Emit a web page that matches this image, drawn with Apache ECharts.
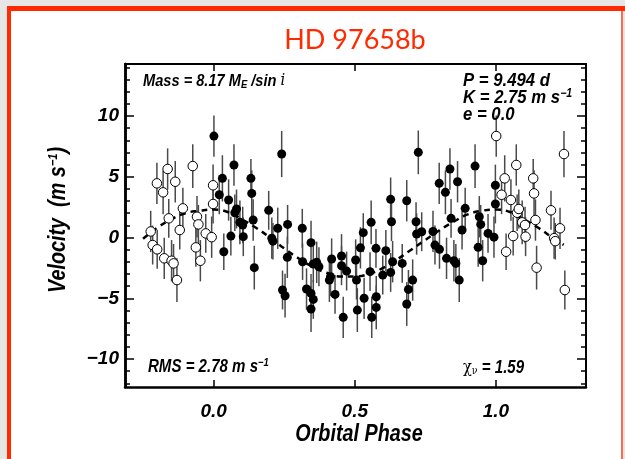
<!DOCTYPE html>
<html>
<head>
<meta charset="utf-8">
<script src="https://cdn.jsdelivr.net/npm/echarts@6/dist/echarts.min.js"></script>
<style>
  html, body { margin: 0; padding: 0; background: #e6e6e6; }
  #chart { width: 625px; height: 459px; }
</style>
</head>
<body>
<div id="chart"></div>
<script>
// Phase-folded radial velocities of HD 97658 (one orbital cycle, 0..1)
const phase = [
  0.001, 0.020, 0.031, 0.036, 0.053, 0.061, 0.072, 0.075, 0.081, 0.093,
  0.103, 0.105, 0.132, 0.135, 0.140, 0.144, 0.195, 0.206, 0.210, 0.227,
  0.241, 0.244, 0.253, 0.261, 0.262, 0.314, 0.315, 0.329, 0.345, 0.345,
  0.345, 0.353, 0.353, 0.365, 0.373, 0.410, 0.414, 0.418, 0.430, 0.453,
  0.453, 0.459, 0.471, 0.503, 0.506, 0.509, 0.520, 0.530, 0.533, 0.554,
  0.558, 0.560, 0.575, 0.576, 0.576, 0.599, 0.610, 0.627, 0.627, 0.630,
  0.634, 0.668, 0.684, 0.684, 0.690, 0.705, 0.717, 0.719, 0.725, 0.737,
  0.777, 0.784, 0.799, 0.800, 0.821, 0.825, 0.837, 0.841, 0.851, 0.858,
  0.864, 0.870, 0.880, 0.891, 0.926, 0.937, 0.941, 0.946, 0.953, 0.972,
  0.993, 0.998, 0.998
];
const velocity = [
  8.35, 3.52, 4.87, -1.17, 3.09, 0.12, 5.97, 2.04, 2.35, 1.25,
  1.03, 0.07, 4.87, 3.63, 1.44, -2.48, 2.24, -0.05, -0.30, 0.76,
  6.87, -4.32, -4.79, -1.63, 1.08, 0.76, -1.99, -4.24, -0.42, -4.60,
  -5.88, -2.18, -5.09, -2.04, -2.40, -3.50, -3.22, -1.77, -4.68, -1.52,
  -2.32, -6.57, -2.76, -1.85, -3.50, -5.97, -0.85, 0.40, -5.00, -2.81,
  1.25, -6.57, -0.89, -4.87, -5.75, -3.09, -1.08, -2.87, 3.14, 1.30,
  -1.99, -2.13, 3.03, -5.47, -4.27, -3.50, 1.30, 0.29, 7.01, 0.48,
  0.50, -0.62, 4.46, -0.97, 3.72, -1.71, 5.64, 1.58, -1.91, -2.13,
  4.59, -3.50, 0.62, 2.40, 5.88, -0.81, 1.71, 1.08, -1.91, 0.34,
  0.03, 4.30, 2.76
];
const velocityErr = [
  1.7, 1.6, 1.9, 1.5, 1.7, 1.6, 1.7, 1.5, 1.6, 1.8,
  1.5, 1.6, 1.6, 1.9, 1.7, 1.8, 1.6, 1.7, 1.5, 1.7,
  1.9, 1.6, 1.8, 1.7, 1.6, 1.6, 1.5, 1.7, 1.8, 1.6,
  1.9, 1.5, 1.6, 1.7, 1.6, 1.8, 1.6, 1.7, 1.6, 1.8,
  1.6, 1.7, 1.6, 1.7, 1.6, 1.8, 1.7, 1.6, 1.7, 1.6,
  1.8, 1.7, 1.6, 1.7, 1.8, 1.6, 1.7, 1.6, 1.8, 1.6,
  1.7, 1.6, 1.7, 1.8, 1.6, 1.7, 1.6, 1.7, 1.8, 1.6,
  1.7, 1.6, 1.7, 1.6, 1.8, 1.7, 1.7, 1.6, 1.7, 1.6,
  1.7, 1.8, 1.6, 1.7, 1.8, 1.6, 1.7, 1.6, 1.7, 1.6,
  1.7, 1.7, 1.6
];

// Circular-orbit model curve (K = 2.75 m/s), sampled along phase
const modelPhase = [
  -0.25, -0.20, -0.15, -0.10, -0.05, 0.00, 0.05, 0.10, 0.15, 0.20,
  0.25, 0.30, 0.35, 0.40, 0.45, 0.50, 0.55, 0.60, 0.65, 0.70,
  0.75, 0.80, 0.85, 0.90, 0.95, 1.00, 1.05, 1.10, 1.15, 1.20, 1.24
];
const modelVel = [
  -0.1, 0.8, 1.5, 2.0, 2.2, 2.3, 2.1, 1.5, 0.8, 0.0,
  -0.9, -1.7, -2.4, -2.9, -3.2, -3.2, -3.0, -2.5, -1.8, -1.0,
  -0.2, 0.6, 1.3, 1.9, 2.2, 2.3, 2.1, 1.5, 0.8, 0.0, -0.6
];

const xMajor = [0, 0.5, 1.0];
const yMajor = [-10, -5, 0, 5, 10];
const yMinor = [-12, -11, -9, -8, -7, -6, -4, -3, -2, -1, 1, 2, 3, 4, 6, 7, 8, 9, 11, 12, 13, 14];

const FONT = '"Liberation Sans", Arial, Helvetica, sans-serif';
const X_MIN = -0.314, X_MAX = 1.319;
const Y_MIN = -12.3, Y_MAX = 14.28;
const NARROW = 0.86;   // horizontal squeeze giving the condensed lettering

// one cycle drawn as filled points; the wrapped copies either side as open points
const filled = phase.map((p, i) => [p, velocity[i], velocityErr[i]]);
const open = [];
phase.forEach((p, i) => {
  if (p >= 0.75) open.push([p - 1, velocity[i], velocityErr[i]]);
  if (p <= 0.25) open.push([p + 1, velocity[i], velocityErr[i]]);
});
const model = modelPhase.map((p, i) => [p, modelVel[i]]);

const chart = echarts.init(document.getElementById('chart'), null, { renderer: 'canvas' });

const axisFont = { fontFamily: FONT, fontWeight: 'bold', fontStyle: 'italic', color: '#000' };

function xAxisDef(pos, showLabel) {
  return {
    type: 'value', min: X_MIN, max: X_MAX, position: pos,
    axisLine: { show: true, onZero: false, lineStyle: { color: '#000', width: pos === 'bottom' ? 2.5 : 2 } },
    axisTick: { show: true, inside: true, length: 7, customValues: xMajor, lineStyle: { color: '#000', width: 1.5 } },
    axisLabel: showLabel ? Object.assign({ show: true, customValues: xMajor, fontSize: 19, margin: 15,
      formatter: v => v.toFixed(1) }, axisFont) : { show: false },
    splitLine: { show: false }
  };
}
function yAxisDef(pos, ticks, len, showLabel) {
  return {
    type: 'value', min: Y_MIN, max: Y_MAX, position: pos,
    axisLine: { show: true, onZero: false, lineStyle: { color: '#000', width: pos === 'left' ? 2.5 : 2 } },
    axisTick: { show: true, inside: true, length: len, customValues: ticks, lineStyle: { color: '#000', width: 1.5 } },
    axisLabel: showLabel ? Object.assign({ show: true, customValues: yMajor, fontSize: 19, margin: 6,
      formatter: v => (v < 0 ? '\u2212' + Math.abs(v) : String(v)) }, axisFont) : { show: false },
    splitLine: { show: false }
  };
}

const errorBars = {
  type: 'custom',
  xAxisIndex: 0, yAxisIndex: 0,
  clip: true, z: 1, silent: true,
  renderItem: (params, api) => {
    const x = api.value(0), y = api.value(1), e = api.value(2);
    const a = api.coord([x, y + e]);
    const b = api.coord([x, y - e]);
    return { type: 'line', shape: { x1: a[0], y1: a[1], x2: b[0], y2: b[1] },
      style: { stroke: '#4a4a4a', lineWidth: 1.5 } };
  },
  encode: { x: 0, y: 1 }
};

const textBase = { fontFamily: FONT, fontWeight: 'bold', fontStyle: 'italic', fill: '#000' };
const supStyle = size => ({ fontSize: size, fontFamily: FONT, fontWeight: 'bold', fontStyle: 'italic', padding: [0, 0, 9, 0] });

chart.setOption({
  animation: false,
  backgroundColor: 'transparent',
  grid: { left: 125, right: 39, top: 64, bottom: 72 },
  xAxis: [xAxisDef('bottom', true), xAxisDef('top', false)],
  yAxis: [
    yAxisDef('left', yMajor, 9, true),
    yAxisDef('left', yMinor, 5, false),
    yAxisDef('right', yMajor, 9, false),
    yAxisDef('right', yMinor, 5, false)
  ],
  series: [
    Object.assign({}, errorBars, { data: filled }),
    Object.assign({}, errorBars, { data: open }),
    {
      type: 'line', data: model, smooth: true, symbol: 'none', z: 2, silent: true,
      lineStyle: { color: '#000', width: 2.5, type: [6, 5] }
    },
    {
      type: 'scatter', data: filled, symbol: 'circle', symbolSize: 9, z: 3, silent: true,
      itemStyle: { color: '#000', opacity: 1 }
    },
    {
      type: 'scatter', data: open, symbol: 'circle', symbolSize: 9.5, z: 3, silent: true,
      itemStyle: { color: '#fff', borderColor: '#000', borderWidth: 1, opacity: 1 }
    }
  ],
  graphic: [
    // page and red slide frame
    { type: 'rect', z: -10, shape: { x: 11, y: 11, width: 610, height: 448 }, style: { fill: '#fff' } },
    { type: 'rect', z: -9, shape: { x: 7, y: 6, width: 618, height: 5 }, style: { fill: '#ff2a00' } },
    { type: 'rect', z: -9, shape: { x: 7, y: 6, width: 4, height: 453 }, style: { fill: '#ff2a00' } },
    { type: 'rect', z: -9, shape: { x: 621, y: 11, width: 2, height: 448 }, style: { fill: '#ff6a50' } },
    { type: 'text', z: 10, x: 355, y: 40, style: { text: 'HD 97658b', fontFamily: 'Lato, "Open Sans", sans-serif',
      fontSize: 27, fontWeight: 'normal', fill: '#ff2a00', textAlign: 'center', textVerticalAlign: 'middle' } },

    // axis titles
    { type: 'text', z: 10, x: 359, y: 435, scaleX: NARROW, style: Object.assign({ text: 'Orbital Phase', fontSize: 23,
      textAlign: 'center', textVerticalAlign: 'middle' }, textBase) },
    { type: 'text', z: 10, x: 59, y: 220, rotation: Math.PI / 2, scaleX: NARROW,
      style: Object.assign({ text: 'Velocity  (m s{sup|\u22121})', fontSize: 23, textAlign: 'center', textVerticalAlign: 'middle',
        rich: { sup: { fontSize: 13, fontFamily: FONT, fontWeight: 'bold', fontStyle: 'italic', verticalAlign: 'top', padding: [0, 0, 11, 0] } } }, textBase) },

    // fit annotations
    { type: 'text', z: 10, x: 143, y: 81, scaleX: NARROW, style: Object.assign({
      text: 'Mass = 8.17 M{sub|E} /sin {i|i}', fontSize: 17, textVerticalAlign: 'middle',
      rich: {
        sub: { fontSize: 11, fontFamily: FONT, fontWeight: 'bold', fontStyle: 'italic', padding: [8, 0, 0, 0] },
        i: { fontSize: 17, fontFamily: '"DejaVu Serif", serif', fontStyle: 'italic', fontWeight: 'normal' }
      } }, textBase) },
    { type: 'text', z: 10, x: 463, y: 81, scaleX: 0.88, style: Object.assign({ text: 'P = 9.494 d', fontSize: 19, textVerticalAlign: 'middle' }, textBase) },
    { type: 'text', z: 10, x: 463, y: 98, scaleX: 0.88, style: Object.assign({ text: 'K = 2.75 m s{sup|\u22121}', fontSize: 19, textVerticalAlign: 'middle',
      rich: { sup: supStyle(12) } }, textBase) },
    { type: 'text', z: 10, x: 463, y: 115, scaleX: 0.88, style: Object.assign({ text: 'e = 0.0', fontSize: 19, textVerticalAlign: 'middle' }, textBase) },
    { type: 'text', z: 10, x: 148, y: 367, scaleX: NARROW, style: Object.assign({ text: 'RMS = 2.78 m s{sup|\u22121}', fontSize: 17.5, textVerticalAlign: 'middle',
      rich: { sup: supStyle(11) } }, textBase) },
    { type: 'text', z: 10, x: 463, y: 368, scaleX: NARROW, style: Object.assign({ text: '{chi|\u03c7}{nu|\u03bd} = 1.59', fontSize: 17.5, textVerticalAlign: 'middle',
      rich: {
        chi: { fontSize: 17, fontFamily: '"DejaVu Serif", serif', fontWeight: 'normal', fontStyle: 'normal' },
        nu: { fontSize: 11, fontFamily: '"DejaVu Serif", serif', fontWeight: 'normal', fontStyle: 'normal', padding: [7, 0, 0, 0] }
      } }, textBase) }
  ]
});
</script>
</body>
</html>
